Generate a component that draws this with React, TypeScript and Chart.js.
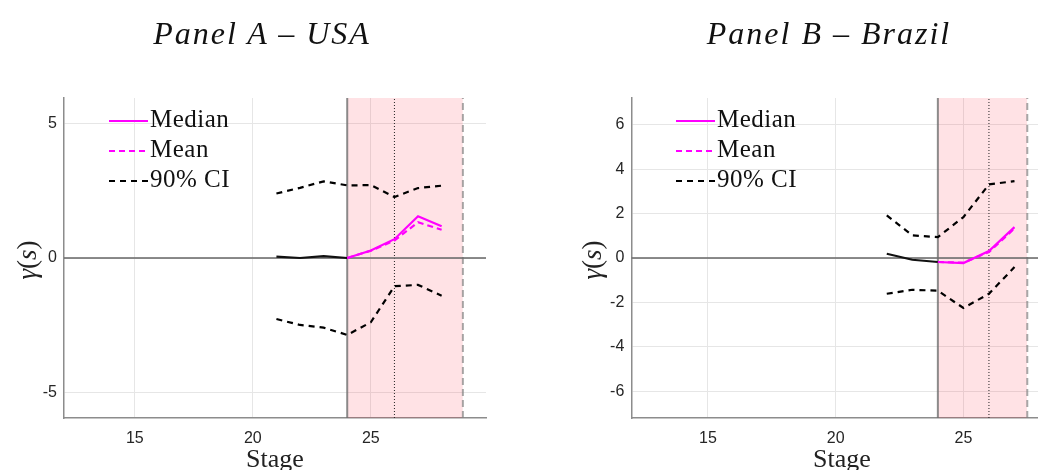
import React, { useEffect, useRef } from 'react';
import { Chart, registerables } from 'chart.js';

Chart.register(...registerables);

// ---------- Data ----------
const usaStages = [21, 22, 23, 24, 25, 26, 27, 28];
const usaMedian = [0.05, 0.0, 0.07, 0.0, 0.28, 0.7, 1.55, 1.18];
const usaMeanStages = [24, 25, 26, 27, 28];
const usaMean = [0.0, 0.27, 0.65, 1.33, 1.05];
const usaUpper = [2.4, 2.61, 2.85, 2.7, 2.71, 2.27, 2.6, 2.69];
const usaLower = [-2.27, -2.49, -2.59, -2.86, -2.39, -1.05, -1.0, -1.4];

const brStages = [22, 23, 24, 25, 26, 27];
const brMedian = [0.19, -0.08, -0.18, -0.23, 0.31, 1.39];
const brMeanStages = [24, 25, 26, 27];
const brMean = [-0.18, -0.21, 0.27, 1.33];
const brUpper = [1.92, 1.02, 0.94, 1.84, 3.31, 3.46];
const brLower = [-1.61, -1.43, -1.47, -2.25, -1.61, -0.41];

const xTickValues = [15, 20, 25];
const usaYTicks = [-5, 0, 5];
const brYTicks = [-6, -4, -2, 0, 2, 4, 6];

const usaEvents = { start: 24, mid: 26, end: 28.9 };
const brEvents = { start: 24, mid: 26, end: 27.5 };

const usaRange = { xMin: 12, xMax: 29.88, yMin: -5.95, yMax: 5.95 };
const brRange = { xMin: 12, xMax: 27.92, yMin: -7.2, yMax: 7.2 };

const MAGENTA = '#ff00ff';
const SERIF = "'Liberation Serif', 'DejaVu Serif', serif";
const SANS = "'Liberation Sans', Arial, sans-serif";

type PanelCfg = {
  stages: number[];
  median: number[];
  meanStages: number[];
  mean: number[];
  upper: number[];
  lower: number[];
  yTicks: number[];
  events: { start: number; mid: number; end: number };
  range: { xMin: number; xMax: number; yMin: number; yMax: number };
  left: number;
  width: number;
  yAxisW: number;
  padRight: number;
};

const pts = (xs: number[], ys: number[]) => xs.map((x, i) => ({ x, y: ys[i] }));

function PanelChart({ cfg }: { cfg: PanelCfg }) {
  const ref = useRef<HTMLCanvasElement>(null);
  useEffect(() => {
    const { range, events } = cfg;
    const base = { pointRadius: 0, tension: 0, fill: false as any };
    const chart = new Chart(ref.current as HTMLCanvasElement, {
      type: 'line',
      data: {
        datasets: [
          {
            ...base,
            label: 'Median',
            data: pts(cfg.stages, cfg.median),
            borderColor: MAGENTA,
            borderWidth: 2.2,
            segment: {
              borderColor: (c: any) => (c.p0.parsed.x < events.start ? '#111111' : MAGENTA),
            },
            order: 1,
          },
          {
            ...base,
            label: 'Mean',
            data: pts(cfg.meanStages, cfg.mean),
            borderColor: MAGENTA,
            borderWidth: 2.2,
            borderDash: [6, 4],
            order: 1,
          },
          {
            ...base,
            label: '90% CI',
            data: pts(cfg.stages, cfg.upper),
            borderColor: '#000000',
            borderWidth: 2.2,
            borderDash: [6, 5],
            order: 1,
          },
          {
            ...base,
            label: '90% CI lower',
            data: pts(cfg.stages, cfg.lower),
            borderColor: '#000000',
            borderWidth: 2.2,
            borderDash: [6, 5],
            order: 1,
          },
          {
            ...base,
            label: 'zero',
            data: [
              { x: range.xMin, y: 0 },
              { x: range.xMax, y: 0 },
            ],
            borderColor: 'rgba(110,110,110,0.8)',
            borderWidth: 2,
            order: 2,
          },
          {
            ...base,
            label: 'start',
            data: [
              { x: events.start, y: range.yMin },
              { x: events.start, y: range.yMax },
            ],
            borderColor: 'rgba(110,110,110,0.8)',
            borderWidth: 2,
            order: 2,
          },
          {
            ...base,
            label: 'mid',
            data: [
              { x: events.mid, y: range.yMin },
              { x: events.mid, y: range.yMax },
            ],
            borderColor: '#222222',
            borderWidth: 1,
            borderDash: [1, 2],
            order: 2,
          },
          {
            ...base,
            label: 'end',
            data: [
              { x: events.end, y: range.yMin },
              { x: events.end, y: range.yMax },
            ],
            borderColor: 'rgba(130,130,130,0.7)',
            borderWidth: 2,
            borderDash: [7, 4],
            order: 2,
          },
          {
            pointRadius: 0,
            tension: 0,
            label: 'shade',
            data: [
              { x: events.start, y: range.yMax },
              { x: events.end, y: range.yMax },
            ],
            borderWidth: 0,
            borderColor: 'rgba(0,0,0,0)',
            backgroundColor: 'rgba(255,20,40,0.12)',
            fill: 'start',
            order: 3,
          },
        ],
      },
      options: {
        animation: false,
        responsive: true,
        maintainAspectRatio: false,
        events: [],
        layout: { padding: { left: 0, top: 98, right: cfg.padRight, bottom: 0 } },
        plugins: {
          legend: { display: false },
          tooltip: { enabled: false },
          title: { display: false },
        },
        scales: {
          x: {
            type: 'linear',
            min: range.xMin,
            max: range.xMax,
            afterFit: (s: any) => {
              s.height = 52;
            },
            afterBuildTicks: (s: any) => {
              s.ticks = xTickValues.map((v) => ({ value: v }));
            },
            grid: { color: '#e6e6e6', lineWidth: 1, drawTicks: false },
            border: { display: true, color: '#8c8c8c', width: 1.5 },
            ticks: {
              padding: 11,
              color: '#262626',
              font: { family: SANS, size: 16 },
              callback: (v: any) => String(v),
            },
          },
          y: {
            type: 'linear',
            min: range.yMin,
            max: range.yMax,
            afterFit: (s: any) => {
              s.width = cfg.yAxisW;
            },
            afterBuildTicks: (s: any) => {
              s.ticks = cfg.yTicks.map((v) => ({ value: v }));
            },
            grid: { color: '#e6e6e6', lineWidth: 1, drawTicks: false },
            border: { display: true, color: '#8c8c8c', width: 1.5 },
            ticks: {
              padding: 7,
              color: '#262626',
              font: { family: SANS, size: 16 },
              callback: (v: any) => String(v),
            },
          },
        },
      } as any,
    });
    return () => chart.destroy();
  }, [cfg]);
  return (
    <div style={{ position: 'absolute', left: cfg.left, top: 0, width: cfg.width, height: 470 }}>
      <canvas ref={ref} />
    </div>
  );
}

function LegendSample({ color, dash }: { color: string; dash?: string }) {
  return (
    <svg width={40} height={4} style={{ position: 'absolute', left: 0, top: 15, overflow: 'visible' }}>
      <line x1={0} y1={2} x2={39} y2={2} stroke={color} strokeWidth={2} strokeDasharray={dash} />
    </svg>
  );
}

function Legend({ left }: { left: number }) {
  const rows = [
    { text: 'Median', color: MAGENTA, dash: undefined },
    { text: 'Mean', color: MAGENTA, dash: '6 4' },
    { text: '90% CI', color: '#000000', dash: '6 5' },
  ];
  return (
    <>
      {rows.map((r, i) => (
        <div key={r.text} style={{ position: 'absolute', left, top: 104 + i * 30, height: 30, width: 200 }}>
          <LegendSample color={r.color} dash={r.dash} />
          <span
            style={{
              position: 'absolute',
              left: 41,
              top: 0,
              lineHeight: '30px',
              fontFamily: SERIF,
              fontSize: 25,
              letterSpacing: 0.5,
              color: '#111',
              whiteSpace: 'nowrap',
            }}
          >
            {r.text}
          </span>
        </div>
      ))}
    </>
  );
}

function Title({ cx, text }: { cx: number; text: string }) {
  return (
    <div
      style={{
        position: 'absolute',
        left: cx - 200,
        top: 17,
        width: 400,
        textAlign: 'center',
        fontFamily: SERIF,
        fontStyle: 'italic',
        fontSize: 32,
        lineHeight: '32px',
        letterSpacing: 2,
        color: '#111',
        whiteSpace: 'nowrap',
      }}
    >
      {text}
    </div>
  );
}

function YLabel({ cx, cy }: { cx: number; cy: number }) {
  return (
    <div
      style={{
        position: 'absolute',
        left: cx - 50,
        top: cy - 15,
        width: 100,
        height: 30,
        lineHeight: '30px',
        textAlign: 'center',
        transform: 'rotate(-90deg)',
        fontFamily: SERIF,
        fontSize: 27,
        color: '#222',
      }}
    >
      <i>γ</i>(<i>s</i>)
    </div>
  );
}

function XLabel({ cx }: { cx: number }) {
  return (
    <div
      style={{
        position: 'absolute',
        left: cx - 60,
        top: 444,
        width: 120,
        textAlign: 'center',
        fontFamily: SERIF,
        fontSize: 26,
        lineHeight: '30px',
        color: '#222',
      }}
    >
      Stage
    </div>
  );
}

const usaCfg: PanelCfg = {
  stages: usaStages,
  median: usaMedian,
  meanStages: usaMeanStages,
  mean: usaMean,
  upper: usaUpper,
  lower: usaLower,
  yTicks: usaYTicks,
  events: usaEvents,
  range: usaRange,
  left: 0,
  width: 519,
  yAxisW: 64,
  padRight: 33,
};

const brCfg: PanelCfg = {
  stages: brStages,
  median: brMedian,
  meanStages: brMeanStages,
  mean: brMean,
  upper: brUpper,
  lower: brLower,
  yTicks: brYTicks,
  events: brEvents,
  range: brRange,
  left: 519,
  width: 519,
  yAxisW: 112.3,
  padRight: 0,
};

export default function App() {
  return (
    <div
      style={{
        position: 'absolute',
        left: 0,
        top: 0,
        width: 1038,
        height: 470,
        overflow: 'hidden',
        background: '#ffffff',
      }}
    >
      <PanelChart cfg={usaCfg} />
      <PanelChart cfg={brCfg} />
      <Title cx={262} text="Panel A – USA" />
      <Title cx={829} text="Panel B – Brazil" />
      <Legend left={109} />
      <Legend left={676} />
      <YLabel cx={27} cy={260} />
      <YLabel cx={592} cy={260} />
      <XLabel cx={275} />
      <XLabel cx={842} />
    </div>
  );
}
